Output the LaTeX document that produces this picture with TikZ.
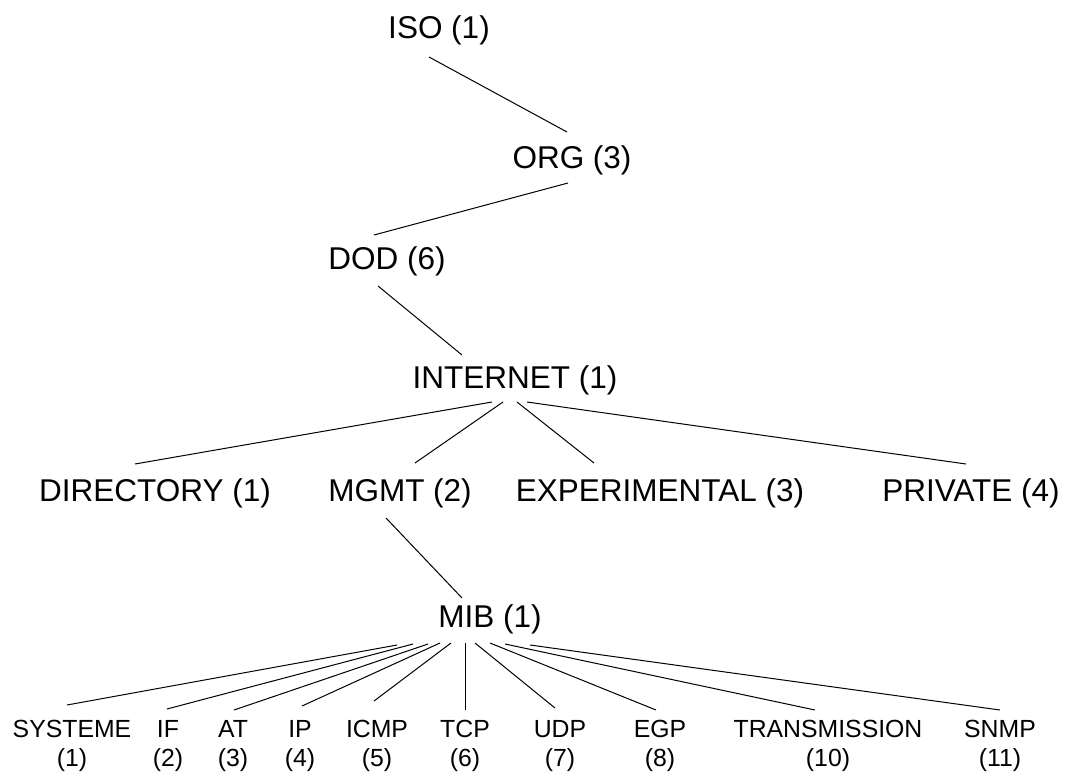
\documentclass[tikz,border=0pt]{standalone}
\usepackage{fontspec}
\setmainfont{Liberation Sans}
\usetikzlibrary{calc}
\begin{document}
\begin{tikzpicture}[x=0.5pt,y=-0.5pt,
  big/.style={anchor=base,inner sep=0pt,font=\fontsize{15.75}{18}\selectfont},
  small/.style={anchor=north,inner sep=0pt,align=center,font=\fontsize{12.4}{14.5}\selectfont},
  link/.style={line width=0.5pt}]
\useasboundingbox (0,0) rectangle (1065,771);
\node[big] (iso)  at (439,38.5) {ISO (1)};
\node[big] (org)  at (572,168.5) {ORG (3)};
\node[big] (dod)  at (387,269) {DOD (6)};
\node[big] (inet) at (515,388) {INTERNET (1)};
\node[big] (dir)  at (155,501) {DIRECTORY (1)};
\node[big] (mgmt) at (400,501) {MGMT (2)};
\node[big] (exp)  at (660,501) {EXPERIMENTAL (3)};
\node[big] (priv) at (971,501) {PRIVATE (4)};
\node[big] (mib)  at (490,627) {MIB (1)};
\node[small] (sys)   at (72,720)  {SYSTEME\\(1)};
\node[small] (if)    at (168,720) {IF\\(2)};
\node[small] (at)    at (233,720) {AT\\(3)};
\node[small] (ip)    at (300,720) {IP\\(4)};
\node[small] (icmp)  at (377,720) {ICMP\\(5)};
\node[small] (tcp)   at (465,720) {TCP\\(6)};
\node[small] (udp)   at (560,720) {UDP\\(7)};
\node[small] (egp)   at (660,720) {EGP\\(8)};
\node[small] (trans) at (828,720) {TRANSMISSION\\(10)};
\node[small] (snmp)  at (1000,720) {SNMP\\(11)};
\draw[link] ($(iso.base)+(-10,18.5)$) -- ($(org.base)+(-5,-36.5)$);
\draw[link] ($(org.base)+(-4,14.5)$) -- ($(dod.base)+(-13,-34)$);
\draw[link] ($(dod.base)+(-9,17)$) -- ($(inet.base)+(-53,-33)$);
\draw[link] ($(inet.base)+(-23,14)$) -- ($(dir.base)+(-20,-37)$);
\draw[link] ($(inet.base)+(-12,14)$) -- ($(mgmt.base)+(15,-38)$);
\draw[link] ($(inet.base)+(2,14)$) -- ($(exp.base)+(-66,-38)$);
\draw[link] ($(inet.base)+(12,14)$) -- ($(priv.base)+(-5,-37)$);
\draw[link] ($(mgmt.base)+(-14,17)$) -- ($(mib.base)+(-28,-29)$);
\draw[link] ($(mib.base)+(-93,18)$) -- ($(sys.north)+(-5,-15)$);
\draw[link] ($(mib.base)+(-77,17)$) -- ($(if.north)+(-1,-11)$);
\draw[link] ($(mib.base)+(-62,17)$) -- ($(at.north)+(1,-10)$);
\draw[link] ($(mib.base)+(-50,16)$) -- ($(ip.north)+(2,-14)$);
\draw[link] ($(mib.base)+(-39,16)$) -- ($(icmp.north)+(-3,-19)$);
\draw[link] ($(mib.base)+(-25,16)$) -- ($(tcp.north)+(0,-10)$);
\draw[link] ($(mib.base)+(-15,16)$) -- ($(udp.north)+(-5,-12)$);
\draw[link] ($(mib.base)+(0,16)$) -- ($(egp.north)+(-4,-10)$);
\draw[link] ($(mib.base)+(15,17)$) -- ($(trans.north)+(-13,-10)$);
\draw[link] ($(mib.base)+(40,18)$) -- ($(snmp.north)+(0,-10)$);
\end{tikzpicture}
\end{document}
